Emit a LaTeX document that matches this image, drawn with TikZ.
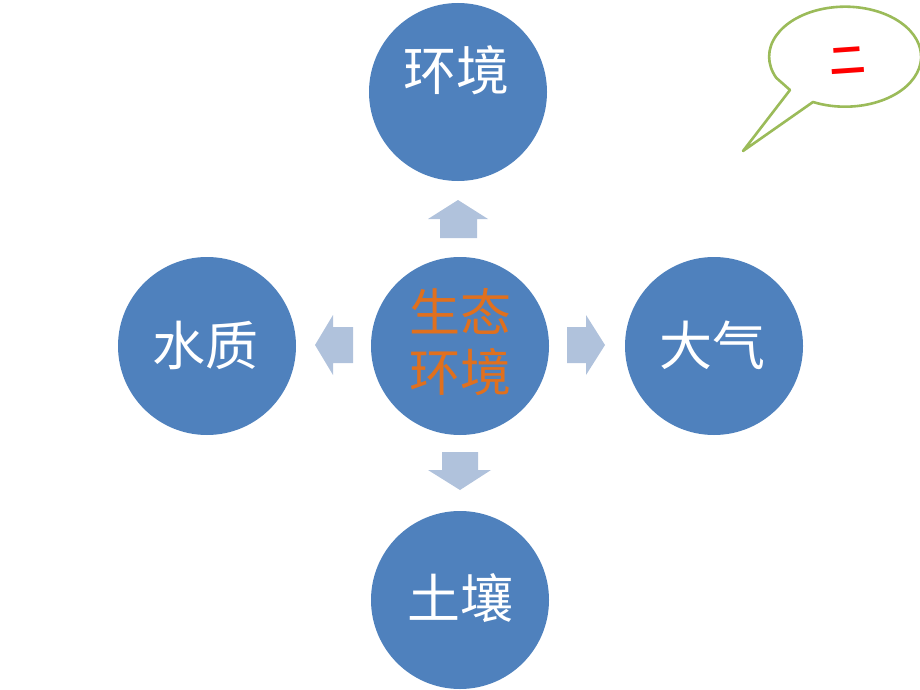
\documentclass[tikz,border=0pt]{standalone}
\usepackage{fontspec}
\newfontfamily\cjk{Noto Sans CJK SC}
\newfontfamily\cjkbold{Noto Sans CJK SC Bold}
\definecolor{circblue}{HTML}{4F81BD}
\definecolor{arrowblue}{HTML}{B0C2DC}
\definecolor{centerorange}{HTML}{E0701E}
\definecolor{callgreen}{HTML}{9BBB59}
\tikzset{
  topic/.style={circle, fill=circblue, minimum size=178pt, inner sep=0pt},
  topictext/.style={text=white, font=\cjk\fontsize{53}{60}\selectfont, inner sep=0pt},
  centertext/.style={text=centerorange, font=\cjk\fontsize{51}{60}\selectfont, align=center, inner sep=0pt},
  blockarrow/.style={fill=arrowblue, draw=none},
  callout/.style={draw=callgreen, line width=2.6pt, fill=white, line join=round}
}
\begin{document}
\begin{tikzpicture}[x=1pt, y=-1pt]
\useasboundingbox (0,0) rectangle (920,690);
% circles
\node[topic] (top) at (458,92) {};
\node[topic] (center) at (460,346) {};
\node[topic] (left) at (207,346) {};
\node[topic] (right) at (714,346) {};
\node[topic] (bottom) at (460,600) {};
% texts
\node[topictext] (ttop) at (456,70) {环境};
\node[topictext] (tleft) at (205,345) {水质};
\node[topictext] (tright) at (712,345) {大气};
\node[topictext] (tbottom) at (460,598) {土壤};
\node[centertext] (tcenter) at (460,342) {生态\\环境};
% block arrows
\fill[blockarrow] (440,238) -- (440,219) -- (428,219) -- (458,200) -- (488,219) -- (477,219) -- (477,238) -- cycle;
\fill[blockarrow] (353,327) -- (333,327) -- (333,315) -- (315,345) -- (333,375) -- (333,363) -- (353,363) -- cycle;
\fill[blockarrow] (567,327) -- (586,327) -- (586,315) -- (605,345) -- (586,375) -- (586,363) -- (567,363) -- cycle;
\fill[blockarrow] (442,452) -- (478,452) -- (478,470) -- (491,470) -- (460,490) -- (428,470) -- (442,470) -- cycle;
% callout
\coordinate (tip) at (743,151);
\draw[callout] (790,90) -- (tip) -- (813,102)
  arc[start angle=-115, end angle=205, x radius=76pt, y radius=50pt] -- cycle;
\node[text=red, font=\cjkbold\fontsize{36}{40}\selectfont, inner sep=0pt, rotate=4] (er) at (848,61) {二};
\end{tikzpicture}
\end{document}
